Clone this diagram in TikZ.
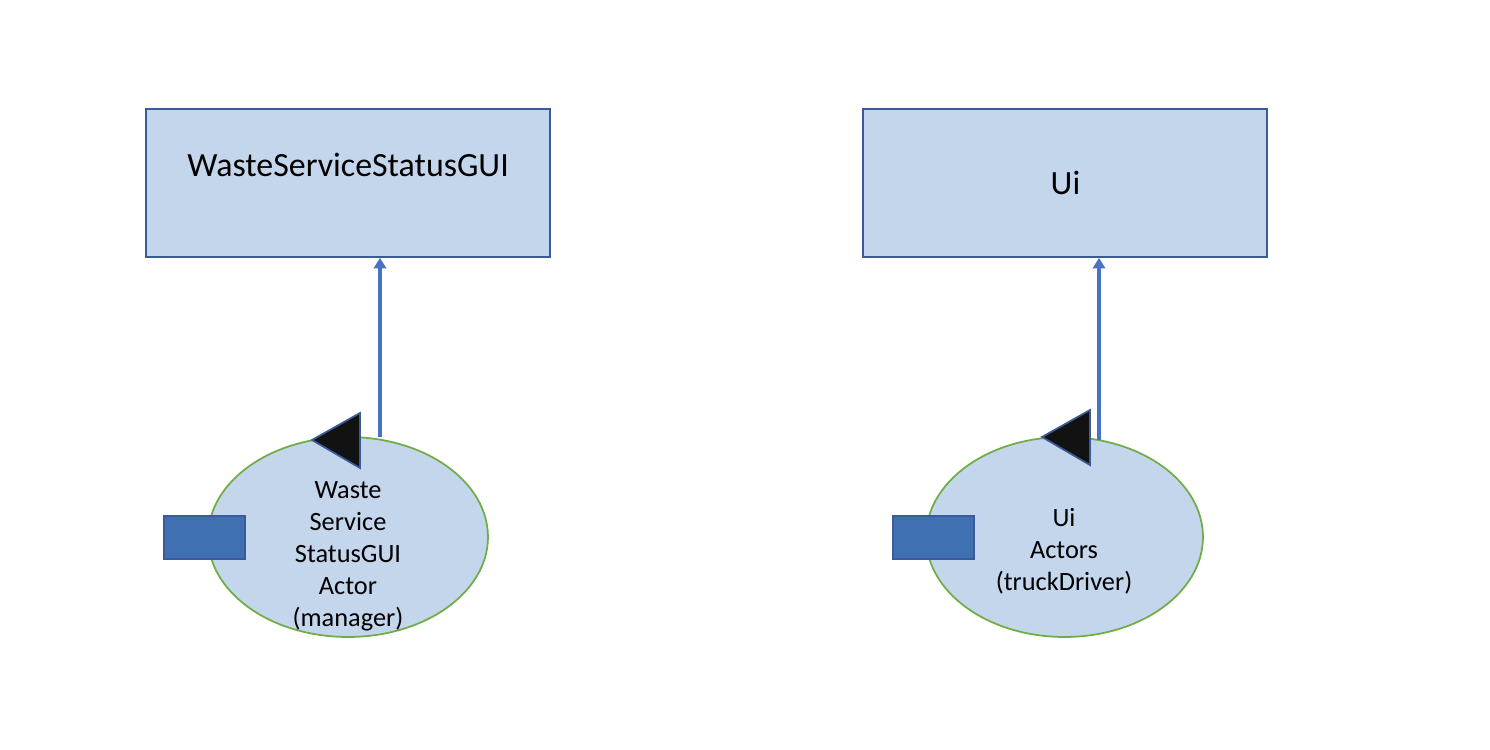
\documentclass[tikz,border=0pt]{standalone}
\usepackage{fontspec}
\setmainfont{Carlito}
\usetikzlibrary{arrows.meta,positioning,shapes.geometric}
\definecolor{boxfill}{HTML}{C4D6EC}
\definecolor{boxline}{HTML}{3A5A98}
\definecolor{actline}{HTML}{70AD47}
\definecolor{portfill}{HTML}{3F70B1}
\definecolor{linkblue}{HTML}{4A72C4}

\begin{document}
\begin{tikzpicture}[
  x=0.02cm, y=-0.02cm,
  guibox/.style={draw=boxline, fill=boxfill, line width=1pt, minimum width=8.08cm, minimum height=2.96cm},
  boxtext/.style={font=\fontsize{19.3}{23}\selectfont},
  actor/.style={draw=actline, fill=boxfill, line width=1pt, ellipse, minimum width=5.6cm, minimum height=4cm},
  actlabel/.style={align=center, font=\fontsize{15}{18.2}\selectfont},
  port/.style={draw=boxline, fill=portfill, line width=0.6pt, minimum width=1.62cm, minimum height=0.86cm},
  flag/.style={draw=boxline, fill=black!93, line width=1pt, line join=miter},
  arr/.style={-{Triangle[length=6pt, width=7pt]}, linkblue, line width=2pt},
]
\useasboundingbox (0,0) rectangle (1490,750);

% --- Left: manager GUI ---
\node[guibox] (gui) at (348,183) {};
\node[boxtext] (guitext) at (348,165) {WasteServiceStatusGUI};
\node[actor] (guiactor) at (348,537) {};
\node[actlabel] (guiactortext) at (348,556) {Waste\\Service\\StatusGUI\\Actor\\(manager)};
\node[port] (guiport) at (204.5,537.5) {};
\draw[flag] (312,440) -- (360,413) -- (360,468) -- cycle;
\coordinate (guisrc) at (380,437);
\draw[arr] (guisrc) -- (guisrc |- gui.south);

% --- Right: truck driver UI ---
\node[guibox] (ui) at (1065,183) {};
\node[boxtext] (uitext) at (1065.5,183) {Ui};
\node[actor, minimum width=5.54cm] (uiactor) at (1064.5,537) {};
\node[actlabel] (uiactortext) at (1064,551) {Ui\\Actors\\(truckDriver)};
\node[port] (uiport) at (933.5,537.5) {};
\draw[flag] (1042,437) -- (1090,410) -- (1090,465) -- cycle;
\coordinate (uisrc) at (1099,440);
\draw[arr] (uisrc) -- (uisrc |- ui.south);
\end{tikzpicture}
\end{document}
